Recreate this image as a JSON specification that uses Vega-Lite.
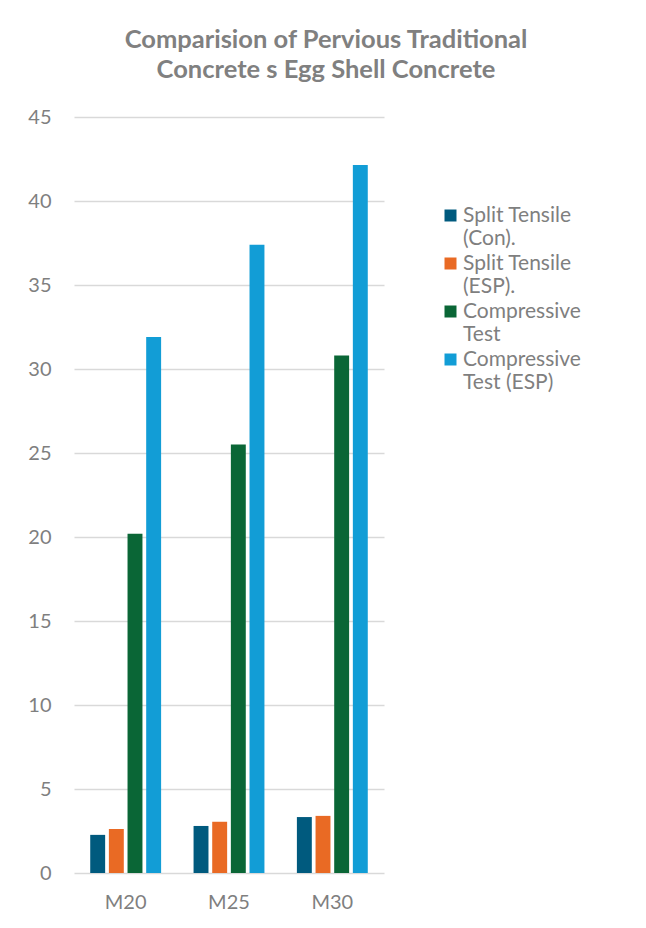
{
  "$schema": "https://vega.github.io/schema/vega-lite/v6.json",
  "autosize": "none",
  "width": 310,
  "height": 756,
  "padding": {"left": 74, "top": 117, "right": 262, "bottom": 55},
  "background": "white",
  "title": {
    "text": ["Comparision of Pervious Traditional", "\u00a0\u00a0\u00a0\u00a0Concrete s Egg Shell Concrete"],
    "anchor": "middle",
    "frame": "group",
    "dx": 97,
    "offset": 24,
    "font": "Lato",
    "fontSize": 25.5,
    "fontWeight": "bold",
    "color": "#808080",
    "lineHeight": 30
  },
  "data": {
    "values": [
      {"grade": "M20", "series": "Split Tensile (Con).", "value": 2.27},
      {"grade": "M20", "series": "Split Tensile (ESP).", "value": 2.62},
      {"grade": "M20", "series": "Compressive Test", "value": 20.2},
      {"grade": "M20", "series": "Compressive Test (ESP)", "value": 31.9},
      {"grade": "M25", "series": "Split Tensile (Con).", "value": 2.8},
      {"grade": "M25", "series": "Split Tensile (ESP).", "value": 3.05},
      {"grade": "M25", "series": "Compressive Test", "value": 25.5},
      {"grade": "M25", "series": "Compressive Test (ESP)", "value": 37.4},
      {"grade": "M30", "series": "Split Tensile (Con).", "value": 3.33},
      {"grade": "M30", "series": "Split Tensile (ESP).", "value": 3.4},
      {"grade": "M30", "series": "Compressive Test", "value": 30.8},
      {"grade": "M30", "series": "Compressive Test (ESP)", "value": 42.15}
    ]
  },
  "mark": {"type": "bar"},
  "encoding": {
    "x": {
      "field": "grade",
      "type": "nominal",
      "scale": {"paddingInner": 0.314, "paddingOuter": 0.157},
      "axis": {
        "title": null,
        "labelAngle": 0,
        "ticks": false,
        "domain": false,
        "labelFont": "Lato",
        "labelFontSize": 20,
        "labelColor": "#7f7f7f",
        "labelPadding": 19,
        "labelBaseline": "top"
      }
    },
    "xOffset": {
      "field": "series",
      "type": "nominal",
      "sort": ["Split Tensile (Con).", "Split Tensile (ESP).", "Compressive Test", "Compressive Test (ESP)"],
      "scale": {"paddingInner": 0.2, "paddingOuter": 0}
    },
    "y": {
      "field": "value",
      "type": "quantitative",
      "scale": {"domain": [0, 45], "nice": false},
      "axis": {
        "title": null,
        "values": [0, 5, 10, 15, 20, 25, 30, 35, 40, 45],
        "ticks": false,
        "domain": false,
        "grid": true,
        "gridColor": "#d9d9d9",
        "gridWidth": 1.5,
        "labelFont": "Lato",
        "labelFontSize": 20,
        "labelColor": "#7f7f7f",
        "labelPadding": 23
      }
    },
    "color": {
      "field": "series",
      "type": "nominal",
      "scale": {
        "domain": ["Split Tensile (Con).", "Split Tensile (ESP).", "Compressive Test", "Compressive Test (ESP)"],
        "range": ["#005a7e", "#e96a24", "#0a6636", "#129dd6"]
      },
      "legend": {
        "title": null,
        "orient": "none",
        "legendX": 366,
        "legendY": 88,
        "symbolType": "square",
        "symbolSize": 144,
        "symbolStrokeWidth": 0,
        "labelFont": "Lato",
        "labelFontSize": 21,
        "labelColor": "#7f7f7f",
        "labelLineHeight": 25,
        "labelOffset": 2,
        "labelLimit": 300,
        "rowPadding": 3,
        "padding": 0,
        "labelExpr": "datum.label == 'Split Tensile (Con).' ? ['Split Tensile', '(Con).'] : datum.label == 'Split Tensile (ESP).' ? ['Split Tensile', '(ESP).'] : datum.label == 'Compressive Test' ? ['Compressive', 'Test'] : ['Compressive', 'Test (ESP)']"
      }
    }
  },
  "config": {"view": {"stroke": null}}
}
